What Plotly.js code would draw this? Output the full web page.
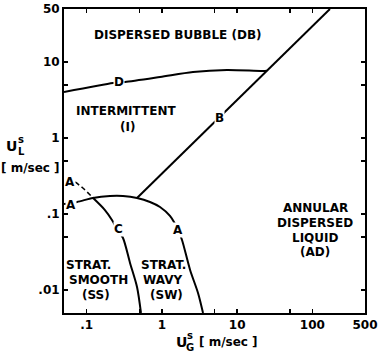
<!DOCTYPE html>
<html>
<head>
<meta charset="utf-8">
<script src="https://cdn.plot.ly/plotly-3.0.1.min.js"></script>
<style>html,body{margin:0;padding:0;background:#fff;}#chart{width:385px;height:354px;}</style>
</head>
<body>
<div id="chart"></div>
<script>
// Boundary D (Intermittent / Dispersed bubble)
const dX = [0.05, 0.224, 0.27, 0.324, 0.944, 2.59, 7.33, 22.1, 24.9];
const dY = [4.04, 5.3, 5.4, 5.47, 6.37, 7.42, 7.88, 7.64, 7.72];
// Boundary B (Intermittent / Annular)
const bX = [0.467, 171];
const bY = [0.163, 50];
// Boundary A (Stratified / Intermittent & Annular)
const aX = [0.05, 0.0745, 0.121, 0.204, 0.304, 0.467, 0.695, 0.944, 1.28, 1.64, 1.85, 2.37, 3.02, 3.52];
const aY = [0.136, 0.1445, 0.163, 0.173, 0.173, 0.163, 0.1445, 0.124, 0.0945, 0.0618, 0.0457, 0.0184, 0.00917, 0.005];
// Boundary C dashed part
const cdX = [0.070, 0.0923, 0.12];
const cdY = [0.265, 0.214, 0.165];
// Boundary C solid part (Strat. smooth / Strat. wavy)
const csX = [0.12, 0.175, 0.217, 0.253, 0.304, 0.377, 0.467, 0.527];
const csY = [0.165, 0.113, 0.0837, 0.0637, 0.0485, 0.0228, 0.011, 0.005];

const xTickVals = [0.1, 0.5, 1, 5, 10, 50, 100, 500];
const xTickText = ['.1', '', '1', '', '10', '', '100', '500'];
const yTickVals = [0.01, 0.05, 0.1, 0.5, 1, 5, 10, 50];
const yTickText = ['.01', '', '.1', '', '1', '', '10', '50'];

// Region labels
const regionText = ['DISPERSED BUBBLE (DB)', 'INTERMITTENT', '(I)', 'ANNULAR', 'DISPERSED', 'LIQUID', '(AD)',
  'STRAT.', 'SMOOTH', '(SS)', 'STRAT.', 'WAVY', '(SW)'];
// Curve labels
const curveText = ['D', 'B', 'A', 'A', 'C', 'A'];

const FONT = 'DejaVu Sans, Arial, sans-serif';
const L = 64, T = 9, W = 301, H = 304;
function px(x) { return (x - L) / W; }
function py(y) { return (T + H - y) / H; }

const line = {color: '#000', width: 2};
const traces = [
  {x: dX, y: dY, mode: 'lines', line: Object.assign({shape: 'spline', smoothing: 0.8}, line)},
  {x: bX, y: bY, mode: 'lines', line: line},
  {x: aX, y: aY, mode: 'lines', line: Object.assign({shape: 'spline', smoothing: 0.8}, line)},
  {x: cdX, y: cdY, mode: 'lines', line: {color: '#000', width: 1.6, dash: '5px,3px', shape: 'spline'}},
  {x: csX, y: csY, mode: 'lines', line: Object.assign({shape: 'spline', smoothing: 0.8}, line)}
];

const regionPos = [[178, 35], [126, 111], [127, 127], [315, 208], [315, 223], [315, 238], [315, 252],
  [88, 265], [98, 280], [96, 295], [163, 265], [162, 280], [166, 295]];
const curvePos = [[119, 82], [219, 118], [70, 182], [71, 205], [118, 229], [178, 230]];

const bold = {family: FONT, size: 12, color: '#000', weight: 'bold'};
const ann = [];
function add(t, x, y, font, extra) {
  ann.push(Object.assign({xref: 'paper', yref: 'paper', x: px(x), y: py(y), text: t, showarrow: false,
    xanchor: 'center', yanchor: 'middle', font: font}, extra || {}));
}
regionText.forEach((t, i) => add(t, regionPos[i][0], regionPos[i][1], bold));
curveText.forEach((t, i) => add(t, curvePos[i][0], curvePos[i][1], bold, {bgcolor: '#fff', borderpad: 0}));
// Axis titles
const tf = {family: FONT, size: 14, color: '#000', weight: 'bold'};
const sf = {family: FONT, size: 10, color: '#000', weight: 'bold'};
add('U', 11, 146, tf);
add('s', 21, 139, sf);
add('L', 21, 151, sf);
add('[ m/sec ]', 30, 168, bold);
add('U', 181, 342, tf);
add('s', 190, 335, sf);
add('G', 190, 347, sf);
add('[ m/sec ]', 228, 342, bold);

const axisCommon = {type: 'log', showgrid: false, zeroline: false, showline: true, linecolor: '#000', linewidth: 2,
  mirror: 'ticks', ticks: 'inside', ticklen: 4, tickwidth: 1.5, tickcolor: '#000', tickmode: 'array',
  tickfont: bold, fixedrange: true};

const layout = {
  width: 385, height: 354,
  margin: {l: 64, r: 20, t: 9, b: 41},
  paper_bgcolor: '#fff', plot_bgcolor: '#fff',
  showlegend: false,
  xaxis: Object.assign({}, axisCommon, {range: [Math.log10(0.05), Math.log10(500)], tickvals: xTickVals, ticktext: xTickText}),
  yaxis: Object.assign({}, axisCommon, {range: [Math.log10(0.005), Math.log10(50)], tickvals: yTickVals, ticktext: yTickText}),
  annotations: ann
};

Plotly.newPlot('chart', traces, layout, {staticPlot: true, displayModeBar: false});
</script>
</body>
</html>
